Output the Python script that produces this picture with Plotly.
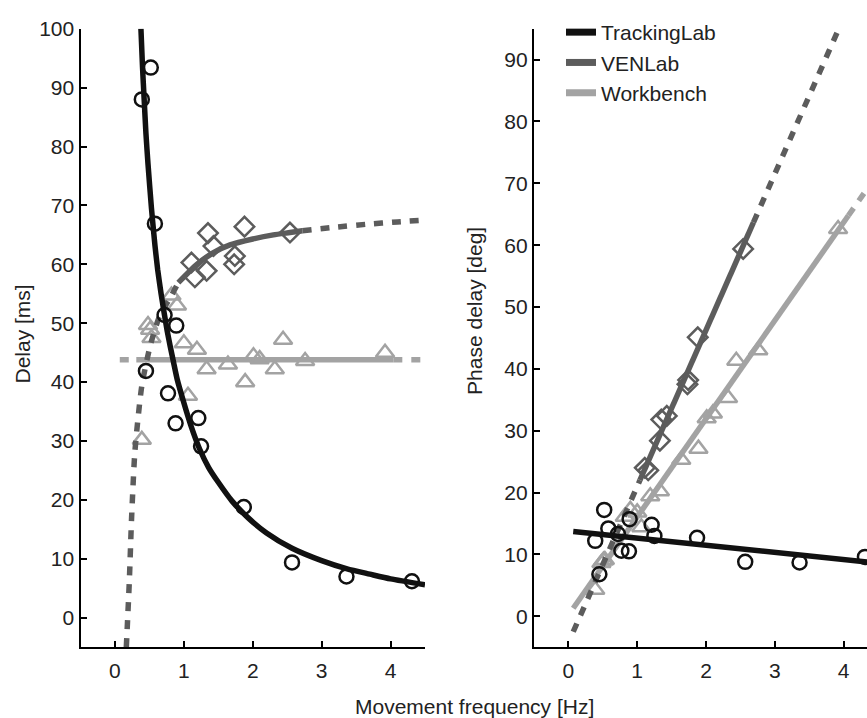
import plotly.graph_objects as go

# ---------------- data ----------------
freq_track = [0.39, 0.45, 0.52, 0.58, 0.72, 0.77, 0.88, 0.89, 1.21, 1.25, 1.87, 2.57, 3.36, 4.31]
delay_track = [88.0, 41.9, 93.4, 66.9, 51.4, 38.1, 33.0, 49.6, 33.9, 29.1, 18.8, 9.4, 7.0, 6.2]
phase_track = [12.2, 6.8, 17.2, 14.2, 13.3, 10.6, 10.5, 15.7, 14.8, 13.0, 12.7, 8.8, 8.7, 9.6]

freq_ven = [1.11, 1.16, 1.35, 1.33, 1.43, 1.74, 1.73, 1.88, 2.54]
delay_ven = [60.3, 57.8, 65.3, 58.9, 63.1, 61.4, 60.0, 66.4, 65.4]
phase_ven = [24.0, 23.6, 31.8, 28.4, 32.4, 38.2, 37.5, 45.1, 59.4]

freq_wb = [0.39, 0.48, 0.51, 0.53, 0.82, 0.90, 1.00, 1.06, 1.19, 1.33, 1.64, 1.89, 2.01, 2.10, 2.32, 2.44, 2.76, 3.92]
delay_wb = [30.2, 49.7, 48.9, 47.5, 54.7, 53.0, 46.6, 37.7, 45.5, 42.2, 43.0, 40.0, 44.4, 43.9, 42.2, 47.2, 43.6, 45.0]
phase_wb = [4.3, 8.6, 9.0, 9.1, 16.1, 17.2, 16.8, 14.4, 19.4, 20.2, 25.3, 27.1, 32.0, 32.8, 35.3, 41.3, 43.0, 62.6]

# fitted curves
track_delay_fit_x = [0.377, 0.40, 0.425, 0.45, 0.48, 0.53, 0.58, 0.62, 0.67, 0.716, 0.76, 0.80, 0.85,
                     0.905, 1.0, 1.1, 1.23, 1.36, 1.5, 1.7, 1.93, 2.2, 2.57, 3.0, 3.37, 3.7, 4.0, 4.5]
track_delay_fit_y = [100, 93.5, 87.8, 82.2, 77.0, 69.5, 63.3, 59.1, 55.0, 51.6, 48.6, 46.2, 43.4,
                     40.4, 36.5, 32.7, 28.6, 25.5, 23.0, 19.8, 17.0, 14.4, 11.8, 9.7, 8.3, 7.4, 6.6, 5.6]
track_phase_fit_x = [0.07, 4.5]
track_phase_fit_y = [13.7, 8.6]

ven_delay_low_x = [0.165, 0.208, 0.242, 0.29, 0.39, 0.51, 0.65, 0.82, 0.92]
ven_delay_low_y = [-5, 6.0, 17.1, 28.3, 39.4, 46.1, 51.3, 54.7, 56.9]
ven_delay_fit_x = [0.92, 1.19, 1.43, 1.67, 2.0, 2.3, 2.54, 2.72]
ven_delay_fit_y = [56.9, 60.0, 62.0, 63.3, 64.3, 65.0, 65.4, 65.7]
ven_delay_high_x = [2.72, 3.2, 3.65, 4.1, 4.5]
ven_delay_high_y = [65.7, 66.3, 66.8, 67.2, 67.5]

ven_phase_low_x = [0.07, 1.04]
ven_phase_low_y = [-2.5, 22.0]
ven_phase_fit_x = [1.04, 2.69]
ven_phase_fit_y = [22.0, 63.7]
ven_phase_high_x = [2.69, 3.93]
ven_phase_high_y = [63.7, 95.0]

wb_delay_low_x = [0.07, 0.31]
wb_delay_fit_x = [0.31, 4.04]
wb_delay_high_x = [4.04, 4.52]
wb_delay_level = 43.8

wb_phase_fit_x = [0.07, 4.07]
wb_phase_fit_y = [1.3, 64.8]
wb_phase_high_x = [4.07, 4.5]
wb_phase_high_y = [64.8, 71.6]

x_ticks = [0, 1, 2, 3, 4]
left_y_ticks = list(range(0, 101, 10))
right_y_ticks = list(range(0, 91, 10))

series_names = ["TrackingLab", "VENLab", "Workbench"]

# ---------------- styling ----------------
C_TRACK = "#111111"
C_VEN = "#5c5c5c"
C_WB = "#a3a3a3"
LW = 5.5
DOT = "9px,9px"
FONT = "Liberation Sans, Arial, Helvetica, sans-serif"
FS = 21
TXT = "#222222"
W, H = 867, 718

fig = go.Figure()


def line(x, y, color, dash="solid", axis="left", spline=False):
    xa, ya = ("x", "y") if axis == "left" else ("x2", "y2")
    ln = dict(color=color, width=LW, dash=dash)
    if spline:
        ln.update(shape="spline", smoothing=0.6)
    fig.add_trace(go.Scatter(x=x, y=y, mode="lines", xaxis=xa, yaxis=ya,
                             line=ln, showlegend=False, hoverinfo="skip"))


def markers(x, y, color, symbol, size, axis="left"):
    xa, ya = ("x", "y") if axis == "left" else ("x2", "y2")
    fig.add_trace(go.Scatter(x=x, y=y, mode="markers", xaxis=xa, yaxis=ya,
                             marker=dict(symbol=symbol, size=size, color=color,
                                         line=dict(color=color, width=2.5)),
                             showlegend=False))


# ----- left panel -----
line(wb_delay_low_x, [wb_delay_level] * 2, C_WB, DOT)
line(wb_delay_fit_x, [wb_delay_level] * 2, C_WB)
line(wb_delay_high_x, [wb_delay_level] * 2, C_WB, DOT)
markers(freq_wb, delay_wb, C_WB, "triangle-up-open", 16)

line(ven_delay_low_x, ven_delay_low_y, C_VEN, DOT, spline=True)
line(ven_delay_fit_x, ven_delay_fit_y, C_VEN, spline=True)
line(ven_delay_high_x, ven_delay_high_y, C_VEN, DOT, spline=True)
markers(freq_ven, delay_ven, C_VEN, "diamond-open", 15)

line(track_delay_fit_x, track_delay_fit_y, C_TRACK, spline=True)
markers(freq_track, delay_track, C_TRACK, "circle-open", 14)

# ----- right panel -----
line(wb_phase_fit_x, wb_phase_fit_y, C_WB, axis="right")
line(wb_phase_high_x, wb_phase_high_y, C_WB, DOT, axis="right")
markers(freq_wb, phase_wb, C_WB, "triangle-up-open", 16, axis="right")

line(ven_phase_low_x, ven_phase_low_y, C_VEN, DOT, axis="right")
line(ven_phase_fit_x, ven_phase_fit_y, C_VEN, axis="right")
line(ven_phase_high_x, ven_phase_high_y, C_VEN, DOT, axis="right")
markers(freq_ven, phase_ven, C_VEN, "diamond-open", 15, axis="right")

line(track_phase_fit_x, track_phase_fit_y, C_TRACK, axis="right")
markers(freq_track, phase_track, C_TRACK, "circle-open", 14, axis="right")

# legend entries
for name, col in zip(series_names, [C_TRACK, C_VEN, C_WB]):
    fig.add_trace(go.Scatter(x=[None], y=[None], mode="lines", name=name,
                             xaxis="x2", yaxis="y2",
                             line=dict(color=col, width=7)))

ydom = [1 - 646 / H, 1 - 17 / H]
axis_common = dict(showline=True, linecolor="black", linewidth=2.2, ticks="inside",
                   ticklen=6, tickwidth=2.2, tickcolor="black", showgrid=False,
                   zeroline=False, tickfont=dict(family=FONT, size=FS, color=TXT))

fig.update_layout(
    width=W, height=H,
    margin=dict(l=0, r=0, t=0, b=0),
    paper_bgcolor="white", plot_bgcolor="white",
    font=dict(family=FONT, size=FS, color=TXT),
    xaxis=dict(domain=[80.5 / W, 425 / W], range=[-0.5, 4.5], tickvals=x_ticks,
               anchor="y", ticklabelstandoff=3, **axis_common),
    yaxis=dict(domain=ydom, range=[-5, 100], tickvals=left_y_ticks, anchor="x",
               **axis_common),
    xaxis2=dict(domain=[534 / W, 1.0], range=[-0.5, 4.34], tickvals=x_ticks,
                anchor="y2", ticklabelstandoff=3, **axis_common),
    yaxis2=dict(domain=ydom, range=[-5, 95], tickvals=right_y_ticks, anchor="x2",
                **axis_common),
    showlegend=True,
    legend=dict(x=561 / W, y=1.0, xanchor="left", yanchor="top",
                bgcolor="rgba(0,0,0,0)", font=dict(family=FONT, size=FS, color=TXT),
                itemwidth=30, tracegroupgap=0),
    annotations=[
        dict(text="Delay [ms]", x=23 / W, y=1 - 328 / H, xref="paper", yref="paper",
             xanchor="center", yanchor="middle",
             textangle=-90, showarrow=False, font=dict(family=FONT, size=FS, color=TXT)),
        dict(text="Phase delay [deg]", x=475 / W, y=1 - 304 / H, xref="paper", yref="paper",
             xanchor="center", yanchor="middle",
             textangle=-90, showarrow=False, font=dict(family=FONT, size=FS, color=TXT)),
        dict(text="Movement frequency [Hz]", x=474.5 / W, y=1 - 706 / H, xref="paper",
             yref="paper", xanchor="center", yanchor="middle",
             showarrow=False, font=dict(family=FONT, size=FS, color=TXT)),
    ],
)

fig.write_html("out.html")
